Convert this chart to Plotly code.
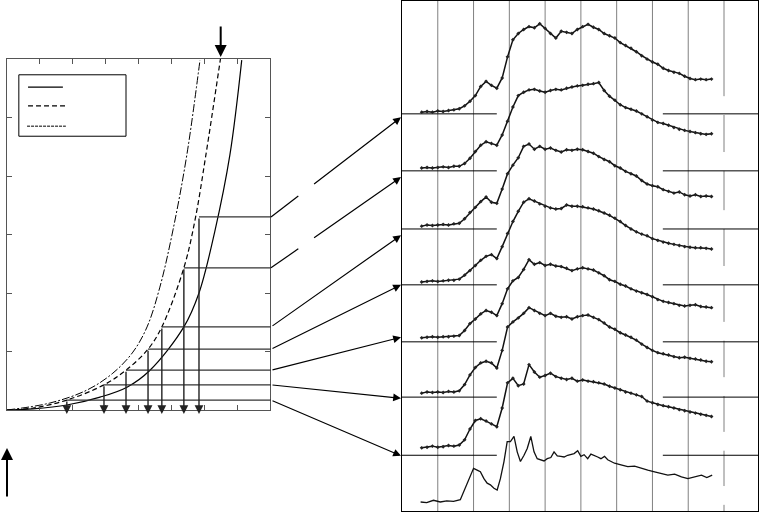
import plotly.graph_objects as go

W, H = 760, 513

# ---------------- left panel data ----------------
solid_x = [0.00, 0.79, 1.82, 2.83, 3.65, 4.35, 5.38, 5.84, 6.32, 6.78, 7.14]
solid_y = [0.00, 0.02, 0.085, 0.22, 0.39, 0.68, 1.42, 2.00, 3.05, 4.36, 5.98]
dashed_x = [0.00, 0.79, 1.82, 2.95, 3.62, 4.29, 4.71, 5.38, 5.72, 6.05, 6.50]
dashed_y = [0.00, 0.034, 0.17, 0.43, 0.68, 1.04, 1.42, 2.43, 3.25, 4.36, 6.03]
dashdot_x = [0.00, 1.31, 2.43, 3.22, 3.83, 4.26, 4.65, 5.05, 5.47, 5.87]
dashdot_y = [0.00, 0.12, 0.34, 0.63, 0.99, 1.42, 2.10, 3.08, 4.36, 5.98]

# selected points, bottom to top
corner_x = [1.82, 2.95, 3.62, 4.29, 4.71, 5.38, 5.84]
corner_y = [0.17, 0.43, 0.68, 1.04, 1.42, 2.43, 3.30]
marked_x = 6.50  # arrow on top

# ---------------- right panel data ----------------
energy = [0.55, 0.70, 0.85, 1.00, 1.15, 1.30, 1.45, 1.60, 1.75, 1.90, 2.05, 2.20, 2.35, 2.50,
          2.65, 2.80, 2.95, 3.10, 3.25, 3.40, 3.55, 3.70, 3.85, 4.00, 4.15, 4.30, 4.45, 4.60,
          4.75, 4.90, 5.05, 5.20, 5.35, 5.50, 5.65, 5.80, 5.95, 6.10, 6.25, 6.40, 6.55, 6.70,
          6.85, 7.00, 7.15, 7.30, 7.45, 7.60, 7.75, 7.90, 8.05, 8.20, 8.35, 8.50, 8.65]

spec1 = [0.00, 0.01, 0.00, 0.02, 0.01, 0.03, 0.04, 0.06, 0.11, 0.19, 0.29, 0.45, 0.54, 0.47,
         0.42, 0.60, 0.97, 1.27, 1.38, 1.45, 1.50, 1.48, 1.55, 1.47, 1.38, 1.30, 1.42, 1.40,
         1.38, 1.45, 1.50, 1.54, 1.49, 1.45, 1.38, 1.34, 1.30, 1.22, 1.17, 1.12, 1.06, 0.99,
         0.93, 0.88, 0.84, 0.77, 0.73, 0.70, 0.68, 0.63, 0.59, 0.57, 0.58, 0.57, 0.58]
spec2 = [0.00, 0.01, 0.00, 0.01, 0.02, 0.01, 0.03, 0.03, 0.08, 0.17, 0.29, 0.40, 0.46, 0.43,
         0.40, 0.58, 0.82, 1.07, 1.27, 1.33, 1.37, 1.38, 1.35, 1.33, 1.36, 1.38, 1.37, 1.40,
         1.42, 1.44, 1.45, 1.47, 1.48, 1.50, 1.36, 1.26, 1.19, 1.11, 1.06, 1.03, 1.00, 0.95,
         0.90, 0.84, 0.80, 0.78, 0.75, 0.71, 0.68, 0.66, 0.64, 0.62, 0.60, 0.59, 0.60]
spec3 = [0.00, 0.02, 0.01, 0.02, 0.03, 0.02, 0.04, 0.05, 0.13, 0.24, 0.33, 0.43, 0.51, 0.42,
         0.40, 0.65, 0.92, 1.07, 1.20, 1.40, 1.44, 1.35, 1.40, 1.35, 1.37, 1.33, 1.30, 1.34,
         1.33, 1.35, 1.34, 1.31, 1.28, 1.22, 1.17, 1.13, 1.06, 1.02, 0.96, 0.92, 0.88, 0.80,
         0.74, 0.71, 0.69, 0.64, 0.61, 0.58, 0.60, 0.55, 0.53, 0.55, 0.52, 0.53, 0.52]
spec4 = [0.00, 0.01, 0.02, 0.01, 0.02, 0.03, 0.03, 0.05, 0.12, 0.20, 0.29, 0.38, 0.45, 0.48,
         0.41, 0.62, 0.85, 1.06, 1.24, 1.40, 1.46, 1.42, 1.37, 1.33, 1.30, 1.28, 1.29, 1.35,
         1.33, 1.33, 1.32, 1.30, 1.28, 1.25, 1.21, 1.17, 1.12, 1.06, 0.99, 0.93, 0.88, 0.84,
         0.81, 0.76, 0.73, 0.70, 0.68, 0.66, 0.64, 0.62, 0.61, 0.60, 0.60, 0.59, 0.58]
spec5 = [0.00, 0.01, 0.02, 0.01, 0.02, 0.02, 0.03, 0.04, 0.13, 0.25, 0.33, 0.42, 0.48, 0.45,
         0.39, 0.60, 0.86, 1.00, 1.06, 1.20, 1.37, 1.29, 1.32, 1.27, 1.29, 1.26, 1.25, 1.22,
         1.18, 1.21, 1.23, 1.21, 1.19, 1.14, 1.09, 1.02, 0.99, 0.94, 0.91, 0.86, 0.82, 0.79,
         0.76, 0.72, 0.67, 0.64, 0.62, 0.60, 0.57, 0.56, 0.57, 0.58, 0.55, 0.54, 0.53]
spec6 = [0.00, 0.02, 0.01, 0.02, 0.01, 0.03, 0.02, 0.04, 0.15, 0.32, 0.45, 0.53, 0.56, 0.53,
         0.44, 0.75, 1.16, 1.25, 1.32, 1.40, 1.50, 1.45, 1.40, 1.36, 1.40, 1.35, 1.33, 1.34,
         1.30, 1.34, 1.36, 1.37, 1.33, 1.29, 1.23, 1.16, 1.12, 1.06, 1.02, 0.98, 0.93, 0.86,
         0.80, 0.75, 0.71, 0.69, 0.67, 0.64, 0.62, 0.63, 0.61, 0.60, 0.58, 0.56, 0.55]
spec7 = [0.00, 0.01, 0.03, 0.01, 0.02, 0.04, 0.03, 0.05, 0.14, 0.33, 0.48, 0.51, 0.47, 0.42,
         0.37, 0.70, 1.14, 1.22, 1.09, 1.12, 1.46, 1.33, 1.24, 1.27, 1.31, 1.25, 1.22, 1.20,
         1.22, 1.17, 1.19, 1.17, 1.16, 1.14, 1.12, 1.08, 1.05, 1.02, 0.98, 0.96, 0.93, 0.90,
         0.82, 0.79, 0.76, 0.74, 0.72, 0.70, 0.67, 0.65, 0.63, 0.61, 0.59, 0.57, 0.55]

spec8_x = [0.52, 0.69, 0.88, 1.07, 1.25, 1.44, 1.63, 1.77, 1.91, 2.00, 2.10, 2.19, 2.29, 2.38,
           2.47, 2.57, 2.66, 2.75, 2.85, 2.94, 3.03, 3.13, 3.22, 3.31, 3.41, 3.50, 3.60, 3.69,
           3.78, 3.88, 3.97, 4.06, 4.16, 4.25, 4.34, 4.44, 4.53, 4.63, 4.72, 4.81, 4.91, 5.00,
           5.09, 5.19, 5.28, 5.37, 5.47, 5.56, 5.66, 5.75, 5.94, 6.12, 6.31, 6.50, 6.69, 6.87,
           7.06, 7.25, 7.43, 7.62, 7.81, 7.99, 8.18, 8.37, 8.52, 8.67]
spec8 = [0.00, -0.01, 0.03, 0.00, 0.02, 0.01, 0.04, 0.24, 0.47, 0.59, 0.56, 0.53, 0.41, 0.33,
         0.30, 0.24, 0.21, 0.41, 0.71, 1.06, 1.06, 1.15, 0.88, 0.71, 0.82, 0.94, 1.15, 0.88,
         0.76, 0.74, 0.72, 0.76, 0.78, 0.88, 0.81, 0.80, 0.79, 0.82, 0.84, 0.85, 0.90, 0.80,
         0.83, 0.76, 0.84, 0.82, 0.79, 0.76, 0.80, 0.74, 0.68, 0.65, 0.62, 0.63, 0.59, 0.56,
         0.53, 0.50, 0.47, 0.49, 0.44, 0.41, 0.44, 0.47, 0.43, 0.47]

spectra = [spec1, spec2, spec3, spec4, spec5, spec6, spec7]
offsets = [6.84, 5.86, 4.84, 3.86, 2.88, 1.91, 0.95, 0.00]     # spec1..spec8
baselines = [0.82, 1.84, 2.81, 3.81, 4.79, 5.81, 6.81]
targets = [0.81, 1.82, 2.89, 3.81, 4.68, 5.70, 6.75]            # arrow tips, bottom to top
grid_x = [1, 2, 3, 4, 5, 6, 7, 8]
dashed_grid_x = 9
base_gap = [2.65, 7.29]

# ---------------- geometry ----------------
LX = (7, 270); LY = (410, 59)
RX = (402, 758); RY = (511, 1)
L_XR = [0, 8]; L_YR = [0, 6]
R_XR = [0, 9.95]; R_YR = [-0.158, 8.79]


def lpx(x):
    return LX[0] + (x - L_XR[0]) / (L_XR[1] - L_XR[0]) * (LX[1] - LX[0])


def lpy(y):
    return LY[0] + (y - L_YR[0]) / (L_YR[1] - L_YR[0]) * (LY[1] - LY[0])


def rpx(x):
    return RX[0] + (x - R_XR[0]) / (R_XR[1] - R_XR[0]) * (RX[1] - RX[0])


def rpy(y):
    return RY[0] + (y - R_YR[0]) / (R_YR[1] - R_YR[0]) * (RY[1] - RY[0])


def arrow(tail, head, width=1.2, size=1.2, color="black"):
    hx, hy = head
    tx, ty = tail
    return dict(x=hx / W, y=1 - hy / H, xref="paper", yref="paper",
                ax=tx - hx, ay=ty - hy, axref="pixel", ayref="pixel",
                text="", showarrow=True, arrowhead=2, arrowsize=size,
                arrowwidth=width, arrowcolor=color, standoff=0, startstandoff=0)


def seg(p0, p1, color="black", width=1.2, dash=None):
    line = dict(color=color, width=width)
    if dash:
        line["dash"] = dash
    return dict(type="line", xref="paper", yref="paper",
                x0=p0[0] / W, y0=1 - p0[1] / H, x1=p1[0] / W, y1=1 - p1[1] / H,
                line=line)


fig = go.Figure()

# left curves
fig.add_trace(go.Scatter(x=solid_x, y=solid_y, mode="lines", line=dict(color="black", width=1.2, shape="spline"),
                         xaxis="x", yaxis="y", showlegend=False, hoverinfo="skip"))
fig.add_trace(go.Scatter(x=dashed_x, y=dashed_y, mode="lines",
                         line=dict(color="black", width=1.2, dash="5px,3px", shape="spline"),
                         xaxis="x", yaxis="y", showlegend=False, hoverinfo="skip"))
fig.add_trace(go.Scatter(x=dashdot_x, y=dashdot_y, mode="lines",
                         line=dict(color="black", width=1.0, dash="8px,2px,2px,2px", shape="spline"),
                         xaxis="x", yaxis="y", showlegend=False, hoverinfo="skip"))

# right panel gridlines
gx, gy = [], []
for g in grid_x:
    gx += [g, g, None]
    gy += [R_YR[0], R_YR[1], None]
fig.add_trace(go.Scatter(x=gx, y=gy, mode="lines", line=dict(color="#808080", width=1),
                         xaxis="x2", yaxis="y2", showlegend=False, hoverinfo="skip"))
# broken line at 9
sx, sy = [], []
cur = R_YR[0]
for o in sorted(offsets):
    sx += [dashed_grid_x, dashed_grid_x, None]
    sy += [cur, o - 0.05, None]
    cur = o + 0.28
sx += [dashed_grid_x, dashed_grid_x]
sy += [cur, R_YR[1]]
fig.add_trace(go.Scatter(x=sx, y=sy, mode="lines", line=dict(color="#808080", width=1),
                         xaxis="x2", yaxis="y2", showlegend=False, hoverinfo="skip"))
# baselines
bx, by = [], []
for b in baselines:
    bx += [R_XR[0], base_gap[0], None, base_gap[1], R_XR[1], None]
    by += [b, b, None, b, b, None]
fig.add_trace(go.Scatter(x=bx, y=by, mode="lines", line=dict(color="black", width=1),
                         xaxis="x2", yaxis="y2", showlegend=False, hoverinfo="skip"))

# spectra
all_x = [energy] * 7 + [spec8_x]
all_y = spectra + [spec8]
for i, (xs, ys) in enumerate(zip(all_x, all_y)):
    yy = [v + offsets[i] for v in ys]
    if i < 7:
        fig.add_trace(go.Scatter(x=xs, y=yy, mode="lines+markers",
                                 line=dict(color="#111111", width=1.5),
                                 marker=dict(size=3, color="#222222", symbol="diamond"),
                                 xaxis="x2", yaxis="y2", showlegend=False, hoverinfo="skip"))
    else:
        fig.add_trace(go.Scatter(x=xs, y=yy, mode="lines",
                                 line=dict(color="#111111", width=1.3),
                                 xaxis="x2", yaxis="y2", showlegend=False, hoverinfo="skip"))

shapes = []
annotations = []

# legend box (no text in source)
shapes.append(dict(type="rect", xref="x", yref="y", x0=0.36, x1=3.62, y0=4.68, y1=5.73,
                   line=dict(color="black", width=1), fillcolor="white"))
shapes.append(dict(type="line", xref="x", yref="y", x0=0.64, x1=1.70, y0=5.52, y1=5.52,
                   line=dict(color="black", width=1.2)))
shapes.append(dict(type="line", xref="x", yref="y", x0=0.64, x1=1.79, y0=5.20, y1=5.20,
                   line=dict(color="black", width=1.2, dash="5px,3px")))
shapes.append(dict(type="line", xref="x", yref="y", x0=0.61, x1=1.79, y0=4.85, y1=4.85,
                   line=dict(color="#555555", width=1.6, dash="3px,1px")))

edge_l = lpx(L_XR[1]) + 1
edge_r = rpx(R_XR[0]) - 1
for i, (cx, cy) in enumerate(zip(corner_x, corner_y)):
    px, py = lpx(cx), lpy(cy)
    # horizontal to the right edge
    shapes.append(seg((px, py), (edge_l, py), color="#333333", width=1.3))
    # vertical arrow down to the axis
    annotations.append(arrow((px, py), (px, lpy(0) + 4), width=1.4, size=1.25, color="#222222"))
    # connector to right panel
    p0 = (edge_l, py)
    p1 = (edge_r, rpy(targets[i]))
    if i >= 5:
        f0, f1 = 0.21, 0.32
        m0 = (p0[0] + f0 * (p1[0] - p0[0]), p0[1] + f0 * (p1[1] - p0[1]))
        m1 = (p0[0] + f1 * (p1[0] - p0[0]), p0[1] + f1 * (p1[1] - p0[1]))
        shapes.append(seg(p0, m0, width=1.2))
        annotations.append(arrow(m1, p1, width=1.2, size=1.3))
    else:
        annotations.append(arrow(p0, p1, width=1.2, size=1.3))

# big arrows
top_head = (lpx(marked_x), lpy(L_YR[1]) - 2)
annotations.append(arrow((top_head[0], top_head[1] - 32), top_head, width=2, size=1.2))
bl_head = (lpx(0), lpy(0) + 38)
annotations.append(arrow((bl_head[0], bl_head[1] + 50), bl_head, width=2, size=1.2))

axis_common = dict(showgrid=False, zeroline=False, showticklabels=False)
fig.update_layout(
    width=W, height=H, autosize=False,
    margin=dict(l=0, r=0, t=0, b=0),
    paper_bgcolor="white", plot_bgcolor="white",
    showlegend=False,
    xaxis=dict(domain=[LX[0] / W, LX[1] / W], range=L_XR, anchor="y",
               showline=True, linecolor="#555555", linewidth=1, mirror="ticks",
               ticks="inside", ticklen=5, tickcolor="#555555", tick0=0, dtick=1, **axis_common),
    yaxis=dict(domain=[1 - LY[0] / H, 1 - LY[1] / H], range=L_YR, anchor="x",
               showline=True, linecolor="#555555", linewidth=1, mirror="ticks",
               ticks="inside", ticklen=5, tickcolor="#555555", tick0=0, dtick=1, **axis_common),
    xaxis2=dict(domain=[RX[0] / W, RX[1] / W], range=R_XR, anchor="y2",
                showline=True, linecolor="black", linewidth=1, mirror=True, ticks="", **axis_common),
    yaxis2=dict(domain=[1 - RY[0] / H, 1 - RY[1] / H], range=R_YR, anchor="x2",
                showline=True, linecolor="black", linewidth=1, mirror=True, ticks="", **axis_common),
    shapes=shapes,
    annotations=annotations,
)

fig.write_html("out.html", config={"displayModeBar": False},
               post_script="document.body.style.margin='0px';document.body.style.overflow='hidden';")
